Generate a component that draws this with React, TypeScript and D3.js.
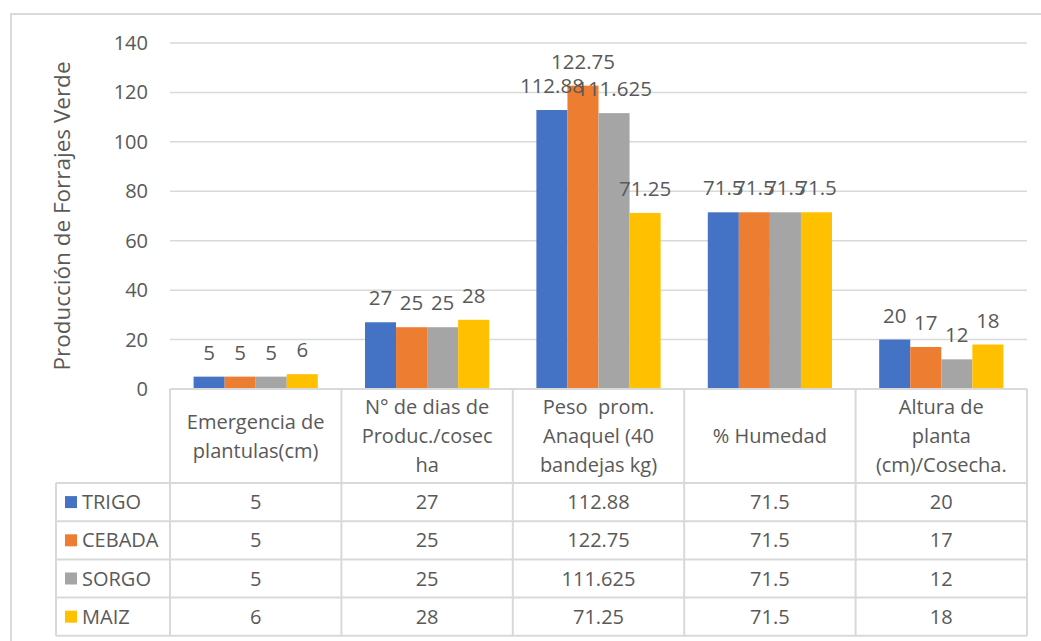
import * as d3 from 'd3';
import React from 'react';

// categories (header cells of the data table)
const categories: string[][] = [
    [ 'Emergencia de', 'plantulas(cm)' ],
    [ 'N° de dias de', 'Produc./cosec', 'ha' ],
    [ 'Peso  prom.', 'Anaquel (40', 'bandejas kg)' ],
    [ '% Humedad' ],
    [ 'Altura de', 'planta', '(cm)/Cosecha.' ]
];

const seriesNames = [ 'TRIGO', 'CEBADA', 'SORGO', 'MAIZ' ];
const seriesColors = [ '#4472C4', '#ED7D31', '#A5A5A5', '#FFC000' ];

const trigo = [ 5, 27, 112.88, 71.5, 20 ];
const cebada = [ 5, 25, 122.75, 71.5, 17 ];
const sorgo = [ 5, 25, 111.625, 71.5, 12 ];
const maiz = [ 6, 28, 71.25, 71.5, 18 ];

const yTicks = [ 0, 20, 40, 60, 80, 100, 120, 140 ];
const yTitle = 'Producción de Forrajes Verde';

const W = 1041;
const H = 641;
const FONT = '"Open Sans", sans-serif';
const TEXT = '#595959';
const LINE = '#d9d9d9';

const App = () => {
    const series = [ trigo, cebada, sorgo, maiz ];

    const plotLeft = 170;
    const plotRight = 1027;
    const plotTop = 43;
    const plotBottom = 389;
    const legendLeft = 56;
    const headerBottom = 483;
    const rowH = 38.2;

    const y = d3.scaleLinear().domain([ 0, 140 ]).range([ plotBottom, plotTop ]);
    const x = d3.scaleBand<number>()
        .domain(d3.range(categories.length))
        .range([ plotLeft, plotRight ])
        .paddingInner(0)
        .paddingOuter(0);
    const inner = d3.scaleBand<number>()
        .domain(d3.range(seriesNames.length))
        .range([ 0, x.bandwidth() ])
        .paddingOuter(0.76);

    const colEdges = categories.map((_, i) => x(i) as number).concat([ plotRight ]);
    const rowEdges = d3.range(seriesNames.length + 1).map(i => headerBottom + i * rowH);
    const tableBottom = rowEdges[rowEdges.length - 1];

    return (
        <svg width={W} height={H} style={{ position: 'absolute', left: 0, top: 0, background: '#fff' }}
            fontFamily={FONT}>
            <rect x={11} y={14} width={W + 10} height={H + 10} fill='#fff' stroke={LINE} strokeWidth={2} />

            {/* gridlines + tick labels */}
            {yTicks.map(t => (
                <g key={t}>
                    {t > 0 && <line x1={plotLeft} x2={plotRight} y1={y(t)} y2={y(t)} stroke={LINE} strokeWidth={1.5} />}
                    <text x={148} y={y(t)} dy='0.35em' textAnchor='end' fontSize={20} fill={TEXT}>{t}</text>
                </g>
            ))}

            <text transform={`translate(70, ${(plotTop + plotBottom) / 2}) rotate(-90)`} textAnchor='middle'
                fontSize={22.5} fill={TEXT}>{yTitle}</text>

            {/* bars */}
            {series.map((vals, s) => vals.map((v, c) => (
                <rect key={`${s}-${c}`} x={(x(c) as number) + (inner(s) as number)} y={y(v)}
                    width={inner.bandwidth()} height={plotBottom - y(v)} fill={seriesColors[s]} />
            )))}

            {/* data labels */}
            {series.map((vals, s) => vals.map((v, c) => (
                <text key={`l${s}-${c}`} x={(x(c) as number) + (inner(s) as number) + inner.bandwidth() / 2}
                    y={y(v) - 17} textAnchor='middle' fontSize={20.5} fill={TEXT}>{v}</text>
            )))}

            {/* data table */}
            <g stroke={LINE} strokeWidth={2} fill='none'>
                <line x1={plotLeft} x2={plotRight} y1={plotBottom} y2={plotBottom} />
                {rowEdges.map((ry, i) => (
                    <line key={ry} x1={legendLeft} x2={plotRight} y1={ry} y2={ry} />
                ))}
                {colEdges.map(cx => (
                    <line key={cx} x1={cx} x2={cx} y1={plotBottom} y2={tableBottom} />
                ))}
                <line x1={legendLeft} x2={legendLeft} y1={headerBottom} y2={tableBottom} />
            </g>

            {categories.map((lines, c) => {
                const cx = (x(c) as number) + x.bandwidth() / 2;
                const cy = (plotBottom + headerBottom) / 2;
                const lh = 29;
                return (
                    <text key={`h${c}`} textAnchor='middle' fontSize={20} fill={TEXT}
                        style={{ whiteSpace: 'pre' }}>
                        {lines.map((ln, i) => (
                            <tspan key={i} x={cx} y={cy + (i - (lines.length - 1) / 2) * lh} dy='0.35em'>{ln}</tspan>
                        ))}
                    </text>
                );
            })}

            {seriesNames.map((name, s) => {
                const cy = (rowEdges[s] + rowEdges[s + 1]) / 2;
                return (
                    <g key={name}>
                        <rect x={65} y={cy - 6} width={12} height={12} fill={seriesColors[s]} />
                        <text x={82} y={cy} dy='0.35em' fontSize={20} fill={TEXT}>{name}</text>
                        {series[s].map((v, c) => (
                            <text key={c} x={(x(c) as number) + x.bandwidth() / 2} y={cy} dy='0.35em'
                                textAnchor='middle' fontSize={20} fill={TEXT}>{v}</text>
                        ))}
                    </g>
                );
            })}
        </svg>
    );
};

export default App;
